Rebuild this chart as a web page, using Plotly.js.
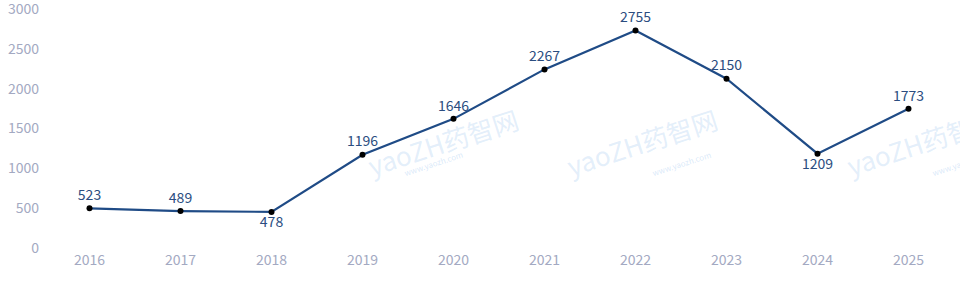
<!DOCTYPE html>
<html><head><meta charset="utf-8">
<script src="https://cdn.plot.ly/plotly-3.0.1.min.js"></script>
<style>html,body{margin:0;padding:0;background:#fff}#c{width:960px;height:287px}</style>
</head><body><div id="c"></div>
<script>
const years = ['2016','2017','2018','2019','2020','2021','2022','2023','2024','2025'];
const values = [523, 489, 478, 1196, 1646, 2267, 2755, 2150, 1209, 1773];
const labelPos = ['top center','top center','bottom center','top center','top center','top center','top center','top center','bottom center','top center'];
const yTicks = [0, 500, 1000, 1500, 2000, 2500, 3000];

const FONT = 'Noto Sans CJK SC, Noto Sans, sans-serif';
const trace = {
  x: years, y: values, type: 'scatter', mode: 'lines+markers+text',
  line: {color: '#1f4b86', width: 2.2},
  marker: {color: '#000', size: 6},
  text: values.map(String), textposition: labelPos,
  textfont: {family: FONT, size: 14, color: '#2b4d80'},
  cliponaxis: false, hoverinfo: 'none'
};
const plotH = 239.5, plotTop = 11, plotL = 43.5, plotW = 911;
const wm = [
  {x: 443, y: 142}, {x: 725, y: 142}, {x: 1005, y: 142}
];
const annotations = [];
wm.forEach(p => {
  annotations.push({xref: 'paper', yref: 'paper', x: (p.x - plotL) / plotW, y: (plotTop + plotH - p.y) / plotH,
    text: 'yaoZH药智网', showarrow: false, textangle: -18,
    font: {family: FONT, size: 26, color: 'rgba(160,200,240,0.3)'}});
  annotations.push({xref: 'paper', yref: 'paper', x: (p.x - plotL - 10) / plotW, y: (plotTop + plotH - p.y - 22) / plotH,
    text: 'www.yaozh.com', showarrow: false, textangle: -18,
    font: {family: FONT, size: 8, color: 'rgba(160,200,240,0.4)'}});
});
const layout = {
  width: 960, height: 287,
  margin: {l: plotL, r: 960 - plotL - plotW, t: plotTop, b: 287 - plotTop - plotH},
  paper_bgcolor: '#fff', plot_bgcolor: '#fff',
  showlegend: false,
  xaxis: {type: 'category', range: [-0.5, 9.5], showgrid: false, zeroline: false, showline: false,
    ticks: '', tickfont: {family: FONT, size: 14, color: '#a3a9c2'}, ticklabelstandoff: 0},
  yaxis: {range: [0, 3000], tickvals: yTicks, showgrid: false, zeroline: false, showline: false,
    ticks: '', tickfont: {family: FONT, size: 14, color: '#a3a9c2'}, ticklabelshift: -2, ticklabelstandoff: 4,
    ticklabeloverflow: 'allow'},
  annotations: annotations
};
Plotly.newPlot('c', [trace], layout, {displayModeBar: false, staticPlot: true});
</script></body></html>
